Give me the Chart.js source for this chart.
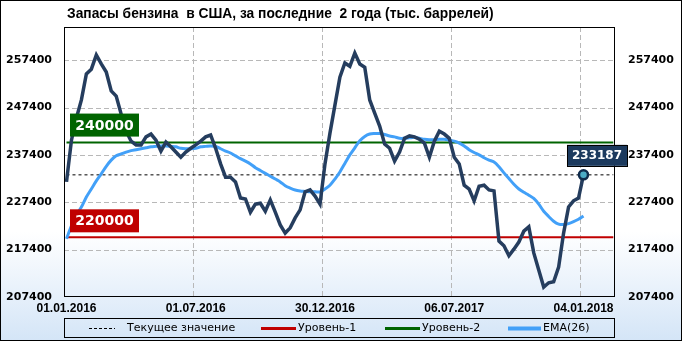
<!DOCTYPE html>
<html>
<head>
<meta charset="utf-8">
<script src="https://cdn.jsdelivr.net/npm/chart.js@4.4.1/dist/chart.umd.min.js"></script>
<style>
html, body { margin: 0; padding: 0; background: #fff; }
#c { display: block; }
</style>
</head>
<body>
<canvas id="c" width="682" height="341"></canvas>
<script>
// --- data ---
const chartTitle = 'Запасы бензина  в США, за последние  2 года (тыс. баррелей)';
const xTickPos = [0, 26, 52, 78, 104];
const xTickLabels = ['01.01.2016', '01.07.2016', '30.12.2016', '06.07.2017', '04.01.2018'];
const yTicks = [207400, 217400, 227400, 237400, 247400, 257400];
const lastSlot = 110;   // x-axis extends past the last week

const stocks = [
  231700, 240500, 245200, 249000, 254500, 255500, 258500, 256600, 254900, 250900,
  249800, 246000, 242400, 240300, 239500, 239500, 241200, 241800, 240500, 238200,
  240100, 239100, 238000, 236900, 238000, 238800, 239500, 240300, 241200, 241600,
  238800, 235500, 232700, 232700, 231700, 228300, 228100, 225300, 227000, 227200,
  225500, 227900, 225300, 222600, 220900, 222000, 224100, 225800, 229600, 230000,
  228700, 227000, 235500, 242000, 247900, 253800, 256800, 256100, 258900, 256600,
  255900, 249000, 246200, 243500, 239700, 238800, 236100, 238000, 240900, 241400,
  241200, 240700, 239900, 236900, 240300, 242400, 241800, 240900, 236900, 235500,
  231000, 230200, 227700, 230800, 231000, 230000, 229800, 219200, 218200, 216100,
  217500, 219000, 221300, 222200, 216700, 213100, 209500, 210400, 210600, 213700,
  220900, 226400, 227700, 228300, 233187
];

const ema26 = [
  219700, 222400, 224700, 226400, 228500, 230200, 231900, 233400, 235000, 236300,
  237200, 237600, 238000, 238300, 238500, 238700, 238900, 239100, 239200, 239300,
  239300, 239200, 239100, 238800, 238700, 238700, 238800, 239100, 239200, 239300,
  239200, 238700, 238200, 237800, 237200, 236600, 236100, 235500, 234700, 234100,
  233500, 232900, 232300, 231700, 230900, 230400, 230000, 229800, 229700, 229600,
  229600, 229600, 230200, 231000, 232300, 233800, 235600, 237400, 238900, 240400,
  241300, 241800, 241900, 241900, 241700, 241400, 241200, 240900, 240900, 241000,
  241100, 240900, 240700, 240600, 240600, 240700, 240700, 240500, 240300, 239900,
  239300, 238500, 237900, 237400, 236800, 236300, 235900, 234900, 233600, 232400,
  231200, 230200, 229500, 228900, 228200, 227000, 225500, 224400, 223400, 222800,
  222700, 222900, 223300, 223800, 224500
];

const level1 = 220000;
const level2 = 240000;
const current = stocks[stocks.length - 1];

const legendItems = [
  { text: 'Текущее значение', color: '#000000', width: 1, dash: [3, 2] },
  { text: 'Уровень-1', color: '#c00000', width: 3, dash: [] },
  { text: 'Уровень-2', color: '#006400', width: 3, dash: [] },
  { text: 'EMA(26)', color: '#42a0f8', width: 4, dash: [] }
];

const NAVY = '#253d5e';
const toXY = arr => arr.map((v, i) => ({ x: i, y: v }));
const flat = v => [{ x: 0, y: v }, { x: lastSlot, y: v }];

function strokeLine(ctx, x1, y1, x2, y2) {
  ctx.beginPath();
  ctx.moveTo(x1, y1);
  ctx.lineTo(x2, y2);
  ctx.stroke();
}

const decor = {
  id: 'decor',
  beforeDraw(chart) {
    const { ctx, width, height } = chart;
    const g = ctx.createLinearGradient(0, 0, 0, height);
    g.addColorStop(0, '#ffffff');
    g.addColorStop(0.68, '#ffffff');
    g.addColorStop(1, '#d4e5f7');
    ctx.save();
    ctx.fillStyle = g;
    ctx.fillRect(0, 0, width, height);
    ctx.restore();
  },
  beforeDatasetsDraw(chart) {
    // dashed grid placed through the scales
    const ctx = chart.ctx;
    const a = chart.chartArea;
    const xs = chart.scales.x, ys = chart.scales.y;
    ctx.save();
    ctx.strokeStyle = '#b8b8b8';
    ctx.lineWidth = 1;
    ctx.setLineDash([5, 3]);
    for (let k = 1; k < yTicks.length; k++) {
      const py = Math.round(ys.getPixelForValue(yTicks[k])) + 0.5;
      strokeLine(ctx, a.left, py, a.right, py);
    }
    for (let k = 1; k < xTickPos.length; k++) {
      const px = Math.round(xs.getPixelForValue(xTickPos[k])) - 2.5;
      strokeLine(ctx, px, a.top, px, a.bottom);
    }
    ctx.restore();
  },
  afterDraw(chart) {
    const { ctx, chartArea: a, width, height } = chart;
    const ys = chart.scales.y;
    ctx.save();

    // plot frame and outer frame
    ctx.strokeStyle = '#000';
    ctx.lineWidth = 1;
    const l = Math.floor(a.left) + 0.5, r = Math.floor(a.right) - 0.5;
    const t = Math.floor(a.top) + 0.5, b = Math.floor(a.bottom) - 0.5;
    ctx.strokeRect(l, t, r - l, b - t);
    ctx.strokeRect(0.5, 0.5, width - 1, height - 1);

    // title
    ctx.fillStyle = '#000';
    ctx.font = 'bold 13.8px "Liberation Sans"';
    ctx.textAlign = 'left';
    ctx.textBaseline = 'middle';
    ctx.fillText(chartTitle, 67, 14);

    // level tags
    [[level2, '#006400', 6], [level1, '#c00000', 5]].forEach(([v, col, gap]) => {
      const py = ys.getPixelForValue(v);
      const bx = a.left + 6, bw = 69, bh = 23, by = py - gap - bh;
      ctx.fillStyle = col;
      ctx.fillRect(bx, by, bw, bh);
      ctx.fillStyle = '#fff';
      ctx.font = 'bold 14px "DejaVu Sans"';
      ctx.textAlign = 'center';
      ctx.fillText(String(v), bx + bw / 2, by + bh / 2 + 1);
    });

    // current value tag
    const meta = chart.getDatasetMeta(0);
    const pt = meta.data[meta.data.length - 1];
    const cx = pt.x - 16.5, cw = 60, ch = 21, cy = pt.y - 9 - ch;
    ctx.fillStyle = '#1c3a5e';
    ctx.fillRect(cx, cy, cw, ch);
    ctx.strokeStyle = '#000';
    ctx.strokeRect(Math.round(cx) + 0.5, Math.round(cy) + 0.5, cw, ch);
    ctx.fillStyle = '#fff';
    ctx.font = 'bold 12px "DejaVu Sans"';
    ctx.textAlign = 'center';
    ctx.fillText(String(current), cx + cw / 2, cy + ch / 2 + 1);

    // legend
    ctx.strokeStyle = '#000';
    ctx.lineWidth = 1;
    ctx.setLineDash([]);
    ctx.strokeRect(l, 318.5, r - l, 19);
    const starts = [89, 261, 385, 508];
    const lens = [26, 35, 35, 33];
    ctx.font = '11px "DejaVu Sans"';
    ctx.textAlign = 'left';
    ctx.fillStyle = '#000';
    legendItems.forEach((it, i) => {
      ctx.strokeStyle = it.color;
      ctx.lineWidth = it.width;
      ctx.setLineDash(it.dash);
      strokeLine(ctx, starts[i], 328.5, starts[i] + lens[i], 328.5);
      ctx.setLineDash([]);
      ctx.fillText(it.text, starts[i] + lens[i] + (i === 0 ? 12 : 2), 328.5);
    });
    ctx.restore();
  }
};

const tickFont = { family: 'DejaVu Sans', weight: 'bold', size: 11 };
const noGrid = { display: false, drawTicks: false };

new Chart(document.getElementById('c'), {
  type: 'line',
  data: {
    datasets: [
      {
        label: 'Запасы',
        data: toXY(stocks),
        borderColor: NAVY,
        borderWidth: 3.5,
        tension: 0,
        order: 0,
        pointRadius: ctx => (ctx.dataIndex === stocks.length - 1 ? 4.5 : 0),
        pointBackgroundColor: '#4bacc6',
        pointBorderColor: '#0f2b4c',
        pointBorderWidth: 2.5
      },
      {
        label: 'EMA(26)',
        data: toXY(ema26),
        borderColor: '#42a0f8',
        borderWidth: 3,
        tension: 0.3,
        pointRadius: 0,
        order: 1
      },
      {
        label: 'Уровень-2',
        data: flat(level2),
        borderColor: '#006400',
        borderWidth: 2,
        pointRadius: 0,
        order: 2
      },
      {
        label: 'Уровень-1',
        data: flat(level1),
        borderColor: '#c00000',
        borderWidth: 2,
        pointRadius: 0,
        order: 3
      },
      {
        label: 'Текущее значение',
        data: flat(current),
        borderColor: '#000',
        borderWidth: 1,
        borderDash: [3, 3],
        pointRadius: 0,
        order: 4
      }
    ]
  },
  options: {
    responsive: false,
    animation: false,
    devicePixelRatio: 1,
    layout: { padding: { top: 27, left: 0, right: 0, bottom: 0 } },
    plugins: { legend: { display: false }, tooltip: { enabled: false } },
    scales: {
      x: {
        type: 'linear',
        min: -0.5,
        max: 110.34,
        afterFit: s => { s.height = 44; },
        afterBuildTicks: s => { s.ticks = xTickPos.map(v => ({ value: v })); },
        grid: noGrid,
        border: { display: false },
        ticks: {
          autoSkip: false,
          maxRotation: 0,
          padding: 4,
          color: '#000',
          font: { family: 'Liberation Sans', weight: 'bold', size: 12 },
          callback: v => xTickLabels[xTickPos.indexOf(v)]
        }
      },
      y: {
        position: 'left',
        min: 207400,
        max: 264400,
        afterFit: s => { s.width = 64; },
        afterBuildTicks: s => { s.ticks = yTicks.map(v => ({ value: v })); },
        grid: noGrid,
        border: { display: false },
        ticks: { padding: 12, color: '#000', font: tickFont, callback: v => String(v) }
      },
      y2: {
        position: 'right',
        min: 207400,
        max: 264400,
        afterFit: s => { s.width = 67; },
        afterBuildTicks: s => { s.ticks = yTicks.map(v => ({ value: v })); },
        grid: noGrid,
        border: { display: false },
        ticks: { padding: 13, color: '#000', font: tickFont, callback: v => String(v) }
      }
    }
  },
  plugins: [decor]
});
</script>
</body>
</html>
